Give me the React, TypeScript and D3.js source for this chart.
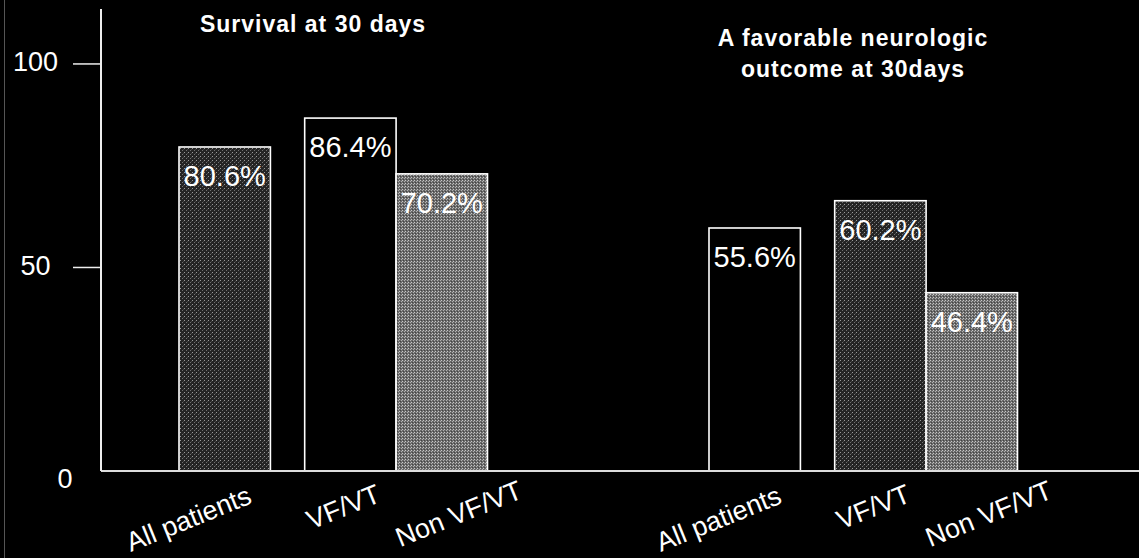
import React from "react";
import * as d3 from "d3";

// ---- data ----
const groups = ["Survival at 30 days", "A favorable neurologic outcome at 30days"];
const categories = ["All patients", "VF/VT", "Non VF/VT"];
// bar heights as drawn in the picture (%)
const survivalBars = [79.6, 86.7, 73.0];
const neuroBars = [59.7, 66.4, 43.8];
// printed percentages
const survivalPct = [80.6, 86.4, 70.2];
const neuroPct = [55.6, 60.2, 46.4];
const yTicks = [0, 50, 100];

// ---- layout / style ----
const W = 1139;
const H = 558;
const FONT = "'Liberation Sans', Arial, Helvetica, sans-serif";
const titleLines = [["Survival at 30 days"], ["A favorable neurologic", "outcome at 30days"]];
const titleDx = [-21, -11];
const titleBaseline = [31.7, 45.7];
const slotStarts = [0, 1.375, 2.375];
const barFills = [
  ["url(#dark)", "#000", "url(#light)"],
  ["#000", "url(#dark)", "url(#light)"],
];
const catDx = [-36, -7, 17];
const catCy = [519, 507, 514];

export default function App() {
  const y = d3.scaleLinear().domain([0, 113.5]).range([471, 9]);
  const xGroup = d3.scaleBand<string>().domain(groups).range([69, 1129]);
  const xInner = d3.scaleLinear().domain([0, 3.375]).range([-155, 153.5]);
  const barW = xInner(1) - xInner(0);
  const fmt = (v: number) => d3.format(".1f")(v) + "%";
  const series = [survivalBars, neuroBars];
  const pcts = [survivalPct, neuroPct];

  return (
    <svg
      width={W}
      height={H}
      style={{ position: "absolute", left: 0, top: 0, background: "#000" }}
    >
      <defs>
        <pattern id="dark" width="4" height="4" patternUnits="userSpaceOnUse">
          <rect width="4" height="4" fill="#242424" />
          <rect x="0" y="0" width="1" height="1" fill="#9a9a9a" />
          <rect x="2" y="2" width="1" height="1" fill="#707070" />
          <rect x="3" y="1" width="1" height="1" fill="#444" />
        </pattern>
        <pattern id="light" width="3" height="3" patternUnits="userSpaceOnUse">
          <rect width="3" height="3" fill="#6a6a6a" />
          <rect x="0" y="0" width="1" height="1" fill="#c8c8c8" />
          <rect x="2" y="1" width="1" height="1" fill="#b0b0b0" />
          <rect x="1" y="2" width="1" height="1" fill="#444" />
        </pattern>
      </defs>
      <rect width={W} height={H} fill="#000" />
      <line x1={4.5} x2={4.5} y1={0} y2={H} stroke="#555" strokeWidth={1} />

      {/* titles */}
      {groups.map((g, gi) => {
        const cx = (xGroup(g) as number) + xGroup.bandwidth() / 2 + titleDx[gi];
        return (
          <text
            key={g}
            x={cx}
            y={titleBaseline[gi]}
            textAnchor="middle"
            fill="#fff"
            fontFamily={FONT}
            fontWeight="bold"
            fontSize={23}
            letterSpacing={1}
          >
            {titleLines[gi].map((line, li) => (
              <tspan key={li} x={cx} dy={li === 0 ? 0 : 31.5}>
                {line}
              </tspan>
            ))}
          </text>
        );
      })}

      {/* bars */}
      {groups.map((g, gi) => {
        const gc = (xGroup(g) as number) + xGroup.bandwidth() / 2;
        return (
          <g key={g}>
            {categories.map((c, ci) => {
              const x0 = gc + xInner(slotStarts[ci]);
              const top = y(series[gi][ci]);
              return (
                <g key={c}>
                  <rect
                    x={x0}
                    y={top}
                    width={barW}
                    height={y(0) - top}
                    fill={barFills[gi][ci]}
                    stroke="#fff"
                    strokeWidth={1.6}
                  />
                  <text
                    x={x0 + barW / 2}
                    y={top + 39}
                    textAnchor="middle"
                    fill="#fff"
                    fontFamily={FONT}
                    fontSize={29}
                  >
                    {fmt(pcts[gi][ci])}
                  </text>
                  <text
                    transform={`translate(${x0 + barW / 2 + catDx[ci]},${catCy[ci]}) rotate(-22)`}
                    textAnchor="middle"
                    dominantBaseline="central"
                    fill="#fff"
                    fontFamily={FONT}
                    fontSize={27}
                  >
                    {c}
                  </text>
                </g>
              );
            })}
          </g>
        );
      })}

      {/* axes */}
      <line x1={101} x2={W} y1={y(0)} y2={y(0)} stroke="#ddd" strokeWidth={2} />
      <line x1={101} x2={101} y1={y(0)} y2={y.range()[1]} stroke="#eee" strokeWidth={2} />
      {yTicks.map((t) => (
        <g key={t}>
          {t !== 0 && (
            <line x1={73} x2={101} y1={y(t)} y2={y(t)} stroke="#eee" strokeWidth={1.5} />
          )}
          <text
            x={t === 0 ? 65 : 35.5}
            y={y(t) + (t === 0 ? 8 : -1.5)}
            textAnchor="middle"
            dominantBaseline="central"
            fill="#fff"
            fontFamily={FONT}
            fontSize={27}
          >
            {t}
          </text>
        </g>
      ))}
    </svg>
  );
}
